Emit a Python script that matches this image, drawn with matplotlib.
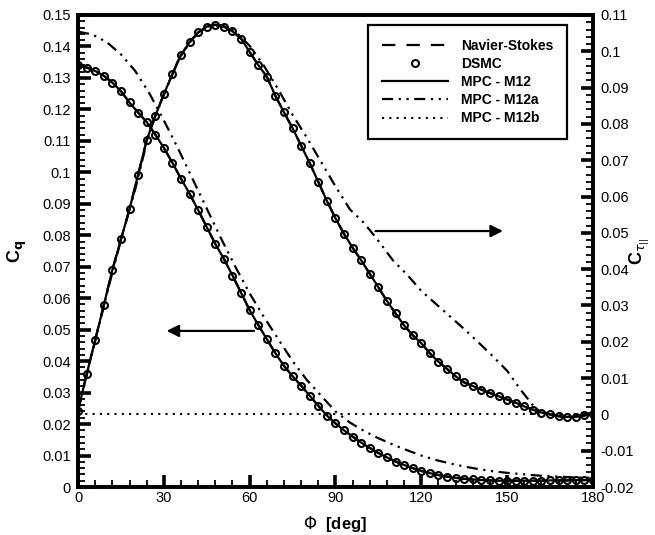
import numpy as np
import matplotlib
matplotlib.use("Agg")
import matplotlib.pyplot as plt
from matplotlib.lines import Line2D

plt.rcParams['font.family'] = ['Liberation Sans', 'DejaVu Sans']

# DSMC / Navier-Stokes / MPC-M12 (all nearly coincide), every 3 deg
phi_dsmc = list(range(0, 181, 3))
cq_dsmc = [0.1340, 0.1333, 0.1322, 0.1307, 0.1285, 0.1258, 0.1222, 0.1190, 0.1160, 0.1120,
           0.1078, 0.1030, 0.0980, 0.0932, 0.0880, 0.0826, 0.0772, 0.0725, 0.0672, 0.0617,
           0.0562, 0.0515, 0.0470, 0.0425, 0.0385, 0.0352, 0.0322, 0.0290, 0.0258, 0.0227,
           0.0202, 0.0180, 0.0160, 0.0141, 0.0124, 0.0108, 0.0094, 0.0081, 0.0070, 0.0060,
           0.0051, 0.0044, 0.0038, 0.0033, 0.0029, 0.0026, 0.0024, 0.0022, 0.0021, 0.0020,
           0.0020, 0.0020, 0.0020, 0.0020, 0.0020, 0.0021, 0.0021, 0.0021, 0.0022, 0.0022,
           0.0023]
ctau_dsmc = [0.0010, 0.0110, 0.0205, 0.0300, 0.0398, 0.0482, 0.0565, 0.0660, 0.0755, 0.0822,
             0.0882, 0.0937, 0.0990, 0.1025, 0.1052, 0.1068, 0.1073, 0.1068, 0.1055, 0.1035,
             0.0998, 0.0962, 0.0930, 0.0877, 0.0832, 0.0788, 0.0740, 0.0692, 0.0640, 0.0588,
             0.0540, 0.0497, 0.0459, 0.0424, 0.0387, 0.0350, 0.0312, 0.0278, 0.0245, 0.0218,
             0.0196, 0.0168, 0.0145, 0.0125, 0.0105, 0.0088, 0.0078, 0.0068, 0.0059, 0.0050,
             0.0041, 0.0032, 0.0022, 0.0013, 0.0005, 0.0000, -0.0005, -0.0007, -0.0006, -0.0003,
             0.0002]

cq_ns = cq_dsmc
ctau_ns = ctau_dsmc
cq_m12 = cq_dsmc
ctau_m12 = ctau_dsmc

# MPC - M12a, every 5 deg
phi_m12a = list(range(0, 181, 5))
cq_m12a = [0.1447, 0.1438, 0.1414, 0.1375, 0.1322, 0.1250, 0.1165, 0.1075, 0.0980, 0.0885,
           0.0790, 0.0700, 0.0615, 0.0540, 0.0470, 0.0400, 0.0340, 0.0290, 0.0240, 0.0205,
           0.0178, 0.0155, 0.0135, 0.0117, 0.0100, 0.0086, 0.0075, 0.0065, 0.0057, 0.0050,
           0.0045, 0.0041, 0.0037, 0.0034, 0.0032, 0.0030, 0.0029]
ctau_m12a = [0.0010, 0.0170, 0.0330, 0.0480, 0.0620, 0.0780, 0.0880, 0.0975, 0.1035, 0.1068,
             0.1072, 0.1055, 0.1015, 0.0960, 0.0895, 0.0825, 0.0762, 0.0695, 0.0628, 0.0565,
             0.0527, 0.0478, 0.0425, 0.0385, 0.0340, 0.0305, 0.0270, 0.0235, 0.0198, 0.0160,
             0.0120, 0.0065, 0.0015, 0.0000, -0.0007, -0.0005, 0.0002]

# MPC - M12b shear stress
phi_m12b = [0, 180]
ctau_m12b = [0.0, 0.0]

fig = plt.figure(figsize=(6.55, 5.35), dpi=100)
ax = fig.add_axes([0.1191, 0.0897, 0.7862, 0.8823])
ax2 = ax.twinx()

lw = 1.6
ns_dash = (6, 5)
m12a_dash = (5, 2.5, 1, 2.5, 1, 2.5)
dsmc_style = dict(ls='none', marker='o', color='k', mfc='none', ms=5, mew=1.5)

# heat flux, left axis
ax.plot(phi_dsmc, cq_m12, color='k', lw=lw)
ax.plot(phi_dsmc, cq_ns, color='k', lw=lw, dashes=ns_dash)
ax.plot(phi_dsmc, cq_dsmc, **dsmc_style)
ax.plot(phi_m12a, cq_m12a, color='k', lw=lw, dashes=m12a_dash)

# shear stress, right axis
ax2.plot(phi_dsmc, ctau_m12, color='k', lw=lw)
ax2.plot(phi_dsmc, ctau_ns, color='k', lw=lw, dashes=ns_dash)
ax2.plot(phi_dsmc, ctau_dsmc, **dsmc_style)
ax2.plot(phi_m12a, ctau_m12a, color='k', lw=lw, dashes=m12a_dash)
ax2.plot(phi_m12b, ctau_m12b, color='k', lw=1.5, ls=(0, (1, 2.5)))

ax.set_xlim(0, 180)
ax.set_ylim(0, 0.15)
ax2.set_ylim(-0.02, 0.11)

ax.set_xticks(np.arange(0, 181, 30))
ax.set_xticks(np.arange(0, 181, 6), minor=True)
ax.set_yticks(np.arange(0, 0.151, 0.01))
ax.set_yticks(np.arange(0, 0.151, 0.002), minor=True)
ax2.set_yticks(np.arange(-0.02, 0.111, 0.01))
ax2.set_yticks(np.arange(-0.02, 0.111, 0.002), minor=True)

ax.set_xticklabels([str(v) for v in range(0, 181, 30)])
ax.set_yticklabels(['0'] + ['%g' % round(v, 2) for v in np.arange(0.01, 0.151, 0.01)])
ax2.set_yticklabels(['%g' % round(v, 2) for v in np.arange(-0.02, 0.111, 0.01)])

for a in (ax, ax2):
    for s in a.spines.values():
        s.set_linewidth(2.6)
    a.tick_params(which='major', direction='in', length=9, width=2.6, labelsize=10.5)
    a.tick_params(which='minor', direction='in', length=5, width=1.3)
ax.tick_params(axis='both', which='both', top=False, right=False)
ax.tick_params(axis='y', pad=5)
ax.tick_params(axis='x', pad=3)
ax2.tick_params(axis='y', which='both', left=False, right=True, pad=5)

ax.set_xlabel(r'$\Phi$  [deg]', fontsize=12, fontweight='bold', labelpad=6)
ax.set_ylabel(r'C$_\mathbf{q}$', fontsize=13, fontweight='bold', labelpad=10)
ax2.set_ylabel(r'C$_{\tau_{||}}$', fontsize=13, fontweight='bold')
ax2.yaxis.set_label_coords(1.068, 0.5)

# arrows pointing to the relevant axis
ax.annotate('', xy=(30, 0.0496), xytext=(62.5, 0.0496),
            arrowprops=dict(arrowstyle='-|>', color='k', lw=1.6, mutation_scale=18))
ax2.annotate('', xy=(149.5, 0.0505), xytext=(103, 0.0505),
             arrowprops=dict(arrowstyle='-|>', color='k', lw=1.6, mutation_scale=18))

handles = [
    Line2D([], [], color='k', lw=lw, dashes=ns_dash),
    Line2D([], [], **dsmc_style),
    Line2D([], [], color='k', lw=lw),
    Line2D([], [], color='k', lw=lw, dashes=m12a_dash),
    Line2D([], [], color='k', lw=1.5, ls=(0, (1, 2.5))),
]
labels = ['Navier-Stokes', 'DSMC', 'MPC - M12', 'MPC - M12a', 'MPC - M12b']
leg = ax2.legend(handles, labels, loc='upper left', bbox_to_anchor=(0.563, 0.979),
                 prop={'weight': 'bold', 'size': 10}, handlelength=4.8, handletextpad=0.9,
                 labelspacing=0.3, borderpad=1.0, borderaxespad=0, fancybox=False,
                 edgecolor='k', framealpha=1)
leg.get_frame().set_linewidth(1.6)

fig.savefig('out.png', dpi=100)
